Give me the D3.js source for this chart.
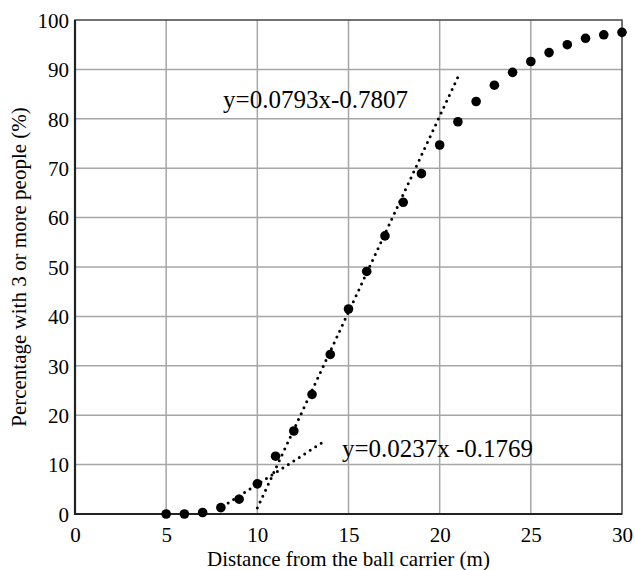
<!DOCTYPE html>
<html>
<head>
<meta charset="utf-8">
<script src="https://cdn.jsdelivr.net/npm/d3@7"></script>
<style>
  body { margin: 0; background: #fff; }
  text { font-family: "Liberation Serif", "Times New Roman", serif; fill: #000; }
</style>
</head>
<body>
<div id="chart"></div>
<script>
'use strict';

// distance (m) and percentage with 3 or more people
const distances = [5, 6, 7, 8, 9, 10, 11, 12, 13, 14, 15, 16, 17, 18, 19, 20,
                   21, 22, 23, 24, 25, 26, 27, 28, 29, 30];
const percents  = [0, 0, 0.3, 1.3, 3.0, 6.1, 11.7, 16.8, 24.2, 32.3, 41.5, 49.1,
                   56.3, 63.1, 68.9, 74.7, 79.4, 83.5, 86.8, 89.4, 91.6, 93.4,
                   95.0, 96.3, 97.0, 97.5];

// trend lines (fitted on fractions, shown in %)
const trends = [
  { slope: 0.0793, icpt: -0.7807, from: 10, to: 21,   label: 'y=0.0793x-0.7807',  lx: 8.12,  ly: 82.2 },
  { slope: 0.0237, icpt: -0.1769, from: 8.1, to: 13.7, label: 'y=0.0237x -0.1769', lx: 14.64, ly: 11.5 }
];

const xTicks = [0, 5, 10, 15, 20, 25, 30];
const yTicks = [0, 10, 20, 30, 40, 50, 60, 70, 80, 90, 100];

const W = 635, H = 570;
const m = { left: 75, right: 13, top: 20, bottom: 56 };

const svg = d3.select('#chart').append('svg')
  .attr('width', W).attr('height', H);

const x = d3.scaleLinear().domain([0, 30]).range([m.left, W - m.right]);
const y = d3.scaleLinear().domain([0, 100]).range([H - m.bottom, m.top]);

// grid
svg.append('g').selectAll('line')
  .data(xTicks.slice(1, -1))
  .enter().append('line')
  .attr('x1', d => x(d)).attr('x2', d => x(d))
  .attr('y1', y(0)).attr('y2', y(100))
  .style('stroke', '#a6a6a6').style('stroke-width', 1.5);
svg.append('g').selectAll('line')
  .data(yTicks.slice(1, -1))
  .enter().append('line')
  .attr('x1', x(0)).attr('x2', x(30))
  .attr('y1', d => y(d)).attr('y2', d => y(d))
  .style('stroke', '#a6a6a6').style('stroke-width', 1.5);

// frame
svg.append('rect')
  .attr('x', x(0)).attr('y', y(100))
  .attr('width', x(30) - x(0)).attr('height', y(0) - y(100))
  .style('fill', 'none').style('stroke', '#444').style('stroke-width', 1.5);
svg.append('path')
  .attr('d', `M${x(0)},${y(100)}V${y(0)}H${x(30)}`)
  .style('fill', 'none').style('stroke', '#222').style('stroke-width', 2.2);

// axes labels
const xAxis = svg.append('g')
  .attr('transform', `translate(0,${y(0)})`)
  .call(d3.axisBottom(x).tickValues(xTicks).tickSize(0).tickPadding(12));
const yAxis = svg.append('g')
  .attr('transform', `translate(${x(0)},0)`)
  .call(d3.axisLeft(y).tickValues(yTicks).tickSize(0).tickPadding(6));
[xAxis, yAxis].forEach(a => {
  a.select('.domain').remove();
  a.selectAll('text')
    .style('font-family', '"Liberation Serif", "Times New Roman", serif')
    .style('font-size', '21px').style('fill', '#000');
});
xAxis.selectAll('text').attr('dy', '0.75em');
yAxis.selectAll('text').attr('dy', '0.35em');

svg.append('text')
  .attr('x', (x(0) + x(30)) / 2).attr('y', 566)
  .attr('text-anchor', 'middle')
  .style('font-size', '21px')
  .text('Distance from the ball carrier (m)');
svg.append('text')
  .attr('transform', `translate(26,${(y(0) + y(100)) / 2}) rotate(-90)`)
  .attr('text-anchor', 'middle')
  .style('font-size', '21px')
  .text('Percentage with 3 or more people (%)');

// trend lines
const line = d3.line().x(d => x(d[0])).y(d => y(d[1]));
svg.append('g').selectAll('path')
  .data(trends)
  .enter().append('path')
  .attr('d', t => line([[t.from, 100 * (t.slope * t.from + t.icpt)],
                        [t.to,   100 * (t.slope * t.to + t.icpt)]]))
  .style('fill', 'none').style('stroke', '#000')
  .style('stroke-width', 3).style('stroke-linecap', 'round')
  .style('stroke-dasharray', '0,6.5');

svg.append('g').selectAll('text')
  .data(trends)
  .enter().append('text')
  .attr('x', t => x(t.lx)).attr('y', t => y(t.ly))
  .style('font-size', '25px')
  .text(t => t.label);

// data points
svg.append('g').selectAll('circle')
  .data(distances.map((d, i) => [d, percents[i]]))
  .enter().append('circle')
  .attr('cx', d => x(d[0])).attr('cy', d => y(d[1]))
  .attr('r', 4.8)
  .style('fill', '#000');
</script>
</body>
</html>
